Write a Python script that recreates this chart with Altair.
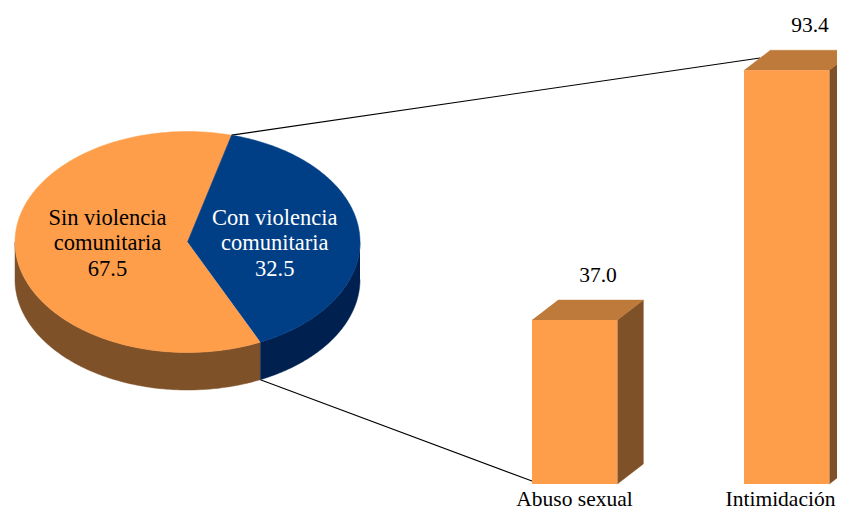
import numpy as np
import pandas as pd
import altair as alt

# Data
shares = ["Sin violencia\ncomunitaria", "Con violencia\ncomunitaria"]
share_values = [67.5, 32.5]
bar_labels = ["Abuso sexual", "Intimidación"]
bar_values = [37.0, 93.4]

# Layout (page pixels; the canvas has to end 8px before the window's edge)
W, H, M = 837, 511, 8
CX, CY, A, B, DEPTH = 187.5, 242.0, 172.5, 110.5, 37.5
START = 14.8            # where the blue slice starts, degrees clockwise from top
STRETCH = 140.2 / (share_values[1] * 3.6)  # the reference's perspective widens the front slice
END = START + share_values[1] * 3.6 * STRETCH
BASE, PX_PER_UNIT = 484.0, 4.43
BAR_LEFT = [532.0, 744.0]
BAR_LABEL_X = [574.5, 780.5]
BAR_LABEL_Y = 506.0
BAR_W, DX, DY_PX = 85.3, 26.0, 20.0
DY = DY_PX / PX_PER_UNIT

ORANGE, ORANGE_TOP, ORANGE_SIDE = "#FF9E4A", "#BE7A3A", "#7F5128"
BLUE, BLUE_SIDE = "#003E86", "#00214F"
FONT = "Liberation Serif"

xs = alt.Scale(domain=[M, W], range=[0, W - M])
pxs = alt.Scale(domain=[H, M], range=[H - M, 0])
pct = alt.Scale(domain=[(BASE - H) / PX_PER_UNIT, (BASE - M) / PX_PER_UNIT], range=[H - M, 0])


def rim(a0, a1, n=160, dy=0.0):
    t = np.radians(np.linspace(a0, a1, n))
    return list(zip(CX + A * np.sin(t), CY - B * np.cos(t) + dy))


def poly(pts, fill, scale, clip=False):
    df = pd.DataFrame(pts, columns=["x", "y"])
    df["i"] = range(len(df))
    return alt.Chart(df).mark_line(fill=fill, stroke=fill, strokeWidth=0.5,
                                   interpolate="linear", clip=clip).encode(
        x=alt.X("x:Q", scale=xs, axis=None),
        y=alt.Y("y:Q", scale=scale, axis=None),
        order="i:Q",
    )


def seg(p, q):
    df = pd.DataFrame([p, q], columns=["x", "y"])
    return alt.Chart(df).mark_line(color="black", strokeWidth=1.1).encode(
        x=alt.X("x:Q", scale=xs, axis=None), y=alt.Y("y:Q", scale=pxs, axis=None))


def text(rows, scale, color="black", size=21.5, dy=0):
    df = pd.DataFrame(rows, columns=["x", "y", "t"])
    return alt.Chart(df).mark_text(font=FONT, fontSize=size, color=color, align="center",
                                   baseline="alphabetic", dy=dy).encode(
        x=alt.X("x:Q", scale=xs, axis=None),
        y=alt.Y("y:Q", scale=scale, axis=None),
        text="t:N",
    )


layers = []
# connectors
layers.append(seg(rim(START, START, 1)[0], (760.0, 58.0)))
layers.append(seg(rim(END, END, 1, DEPTH)[0], (BAR_LEFT[0], 481.0)))

# pie rim
orange_side = rim(END, 270) + rim(270, END, dy=DEPTH)
blue_side = rim(90, END) + rim(END, 90, dy=DEPTH)
layers.append(poly(orange_side, ORANGE_SIDE, pxs))
layers.append(poly(blue_side, BLUE_SIDE, pxs))
# pie top
layers.append(poly(rim(END, START + 360) + [(CX, CY)], ORANGE, pxs))
layers.append(poly([(CX, CY)] + rim(START, END), BLUE, pxs))

# bars
for left, v in zip(BAR_LEFT, bar_values):
    r = left + BAR_W
    layers.append(poly([(r, 0), (r + DX, DY), (r + DX, v + DY), (r, v)], ORANGE_SIDE, pct, clip=True))
    layers.append(poly([(left, v), (r, v), (r + DX, v + DY), (left + DX, v + DY)], ORANGE_TOP, pct, clip=True))

bars = pd.DataFrame({"l": BAR_LEFT, "r": [b + BAR_W for b in BAR_LEFT], "v": bar_values, "z": [0, 0]})
layers.append(alt.Chart(bars).mark_bar(color=ORANGE).encode(
    x=alt.X("l:Q", scale=xs, axis=None), x2="r:Q",
    y=alt.Y("v:Q", scale=pct, axis=None), y2="z:Q"))

# text
vals = [(l + 66, v, f"{v:.1f}") for l, v in zip(BAR_LEFT, bar_values)]
layers.append(text(vals, pct, dy=-38.5))
layers.append(text([(x, BAR_LABEL_Y, t) for x, t in zip(BAR_LABEL_X, bar_labels)], pxs))

for name, val, cx, color in zip(shares, share_values, [107.5, 274.7], ["black", "white"]):
    a, b = name.split("\n")
    layers.append(text([(cx, 225.0, a), (cx, 250.0, b), (cx, 275.5, f"{val:.1f}")], pxs, color=color, size=22.5))

chart = alt.layer(*layers).resolve_scale(y="independent").properties(
    width=W - M, height=H - M, padding=0,
    autosize=alt.AutoSizeParams(type="none"),
).configure_view(stroke=None)

chart.save("out.html", embed_options={"renderer": "svg", "actions": False})
